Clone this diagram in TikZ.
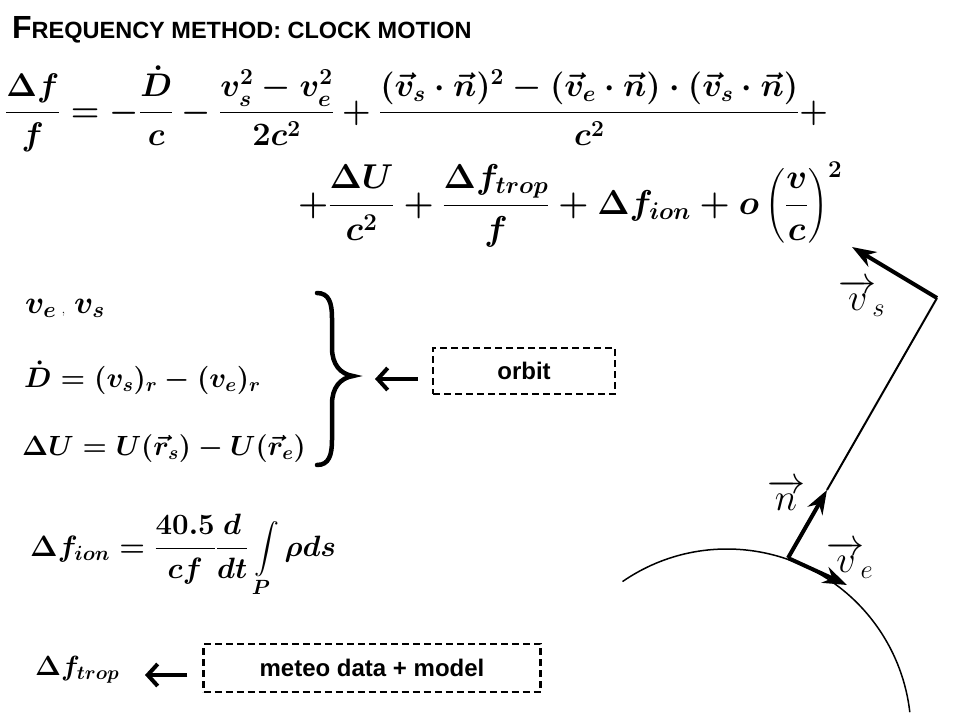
\documentclass[tikz,border=0pt]{standalone}
\usepackage{fix-cm}
\usepackage{amsmath}
\usepackage{fontspec}
\setsansfont{Liberation Sans}
\usepackage{tikz}
\usetikzlibrary{arrows.meta}

\begin{document}
\begin{tikzpicture}[
    x=1pt, y=-1pt,
    eq/.style = {inner sep=0pt, anchor=base west, font=\fontsize{#1}{40}\selectfont\boldmath},
    eq/.default = 28,
    vlabel/.style = {inner sep=0pt, font=\fontsize{38}{44}\selectfont},
    databox/.style = {draw, dash pattern=on 7pt off 4pt, line width=2.2pt,
      font=\sffamily\bfseries\fontsize{24}{28}\selectfont},
    backarrow/.style = {line width=4pt, -{Straight Barb[length=10pt,width=22pt]}},
    vecarrow/.style = {line width=4pt, -{Stealth[length=24pt,width=17pt]}}
  ]
  \useasboundingbox (0,0) rectangle (960,720);

  % title
  \node[inner sep=0pt, anchor=base west, font=\sffamily\bfseries] (title) at (12,38)
    {{\fontsize{32}{36}\selectfont F}{\fontsize{23.5}{28}\selectfont REQUENCY METHOD: CLOCK MOTION}};

  % main equation
  \node[eq=32.7] (eqa) at (5,121)
    {$\displaystyle\frac{\Delta f}{f} = -\frac{\dot D}{c} - \frac{v_s^2 - v_e^2}{2c^2}
      + \frac{(\vec v_s\cdot\vec n)^2 - (\vec v_e\cdot\vec n)\cdot(\vec v_s\cdot\vec n)}{c^2} +$};
  \node[eq=34.5] (eqb) at (298,214)
    {$\displaystyle+\frac{\Delta U}{c^2} + \frac{\Delta f_{trop}}{f} + \Delta f_{ion} + o\left(\frac{v}{c}\right)^2$};

  % orbit terms
  \node[eq=32] (vel) at (25,313)
    {$v_e$\,{\normalfont\fontsize{15}{18}\selectfont,}\;$v_s$};
  \node[eq=28.2] (ddot) at (24,387) {$\dot D = (v_s)_r - (v_e)_r$};
  \node[eq=27.8] (du) at (22,455) {$\Delta U = U(\vec r_s) - U(\vec r_e)$};
  \draw[line width=4.5pt, line cap=round]
    (317,293) .. controls (329,293) and (332,303) .. (332,318) -- (332,348)
    .. controls (332,364) and (340,374) .. (353,376)
    .. controls (340,378) and (332,388) .. (332,404) -- (332,440)
    .. controls (332,455) and (329,465) .. (317,465);
  \node[databox, minimum width=182pt, minimum height=46pt] (orbit) at (524,371) {orbit};
  \coordinate (otip) at (375,379);
  \draw[backarrow, shorten <=14pt] (orbit.west |- otip) -- (otip);

  % ionosphere, troposphere
  \node[eq=29.4] (ion) at (30,556)
    {$\displaystyle\Delta f_{ion} = \frac{40.5}{cf}\frac{d}{dt}\int\limits_P \rho ds$};
  \node[eq=27.7] (trop) at (35,675) {$\Delta f_{trop}$};
  \node[databox, minimum width=337pt, minimum height=48pt] (meteo) at (372,668) {meteo data + model};
  \coordinate (ttip) at (145,675);
  \draw[backarrow, shorten <=15pt] (meteo.west |- ttip) -- (ttip);

  % station and satellite
  \coordinate (earth) at (727,733);
  \draw[line width=1.5pt] (earth) ++(-124.6:184) arc[start angle=-124.6, end angle=-6.5, radius=184];
  \coordinate (st) at (788,558);
  \coordinate (ntip) at (827,490);
  \coordinate (sat) at (937,298);
  \coordinate (vstip) at (852,247);
  \coordinate (vetip) at (847,585);
  \draw[line width=2pt] (ntip) -- (sat);
  \draw[vecarrow] (st) -- (ntip);
  \draw[vecarrow] (st) -- (vetip);
  \draw[vecarrow] (sat) -- (vstip);
  \node[vlabel] (lvs) at (862,298) {$\overrightarrow{v}_{\!s}$};
  \node[vlabel] (ln) at (786,495) {$\overrightarrow{n}$};
  \node[vlabel] (lve) at (850,560) {$\overrightarrow{v}_{\!e}$};
\end{tikzpicture}
\end{document}
